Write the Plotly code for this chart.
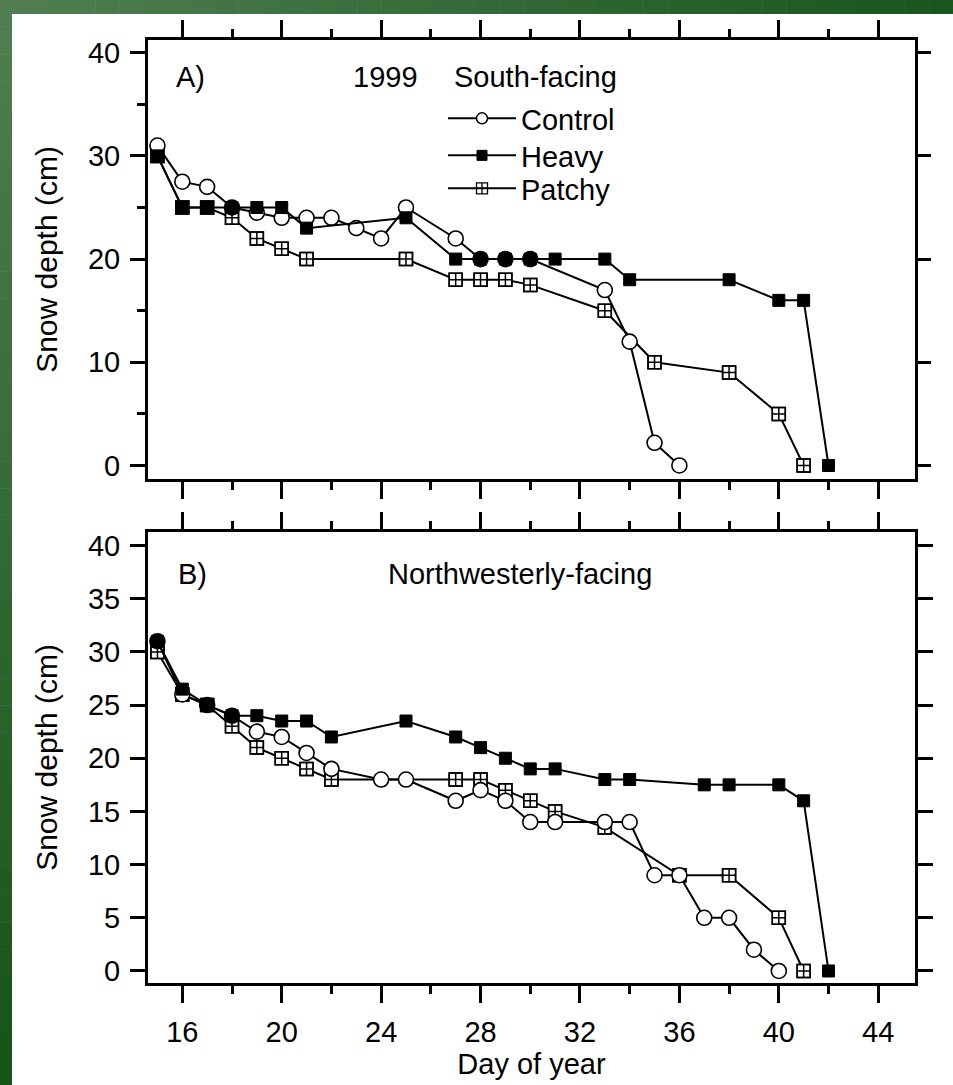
import plotly.graph_objects as go

# ---------------- data ----------------
# Panel A (1999, south-facing)
a_control_days = [15, 16, 17, 18, 19, 20, 21, 22, 23, 24, 25, 27, 28, 29, 30, 33, 34, 35, 36]
a_control_depth = [31, 27.5, 27, 25, 24.5, 24, 24, 24, 23, 22, 25, 22, 20, 20, 20, 17, 12, 2.2, 0]

a_heavy_days = [15, 16, 17, 18, 19, 20, 21, 25, 27, 28, 29, 30, 31, 33, 34, 38, 40, 41, 42]
a_heavy_depth = [30, 25, 25, 25, 25, 25, 23, 24, 20, 20, 20, 20, 20, 20, 18, 18, 16, 16, 0]

a_patchy_days = [15, 16, 17, 18, 19, 20, 21, 25, 27, 28, 29, 30, 33, 35, 38, 40, 41]
a_patchy_depth = [30, 25, 25, 24, 22, 21, 20, 20, 18, 18, 18, 17.5, 15, 10, 9, 5, 0]

# Panel B (northwesterly-facing)
b_control_days = [15, 16, 17, 18, 19, 20, 21, 22, 24, 25, 27, 28, 29, 30, 31, 33, 34, 35, 36, 37, 38, 39, 40]
b_control_depth = [31, 26, 25, 24, 22.5, 22, 20.5, 19, 18, 18, 16, 17, 16, 14, 14, 14, 14, 9, 9, 5, 5, 2, 0]

b_heavy_days = [15, 16, 17, 18, 19, 20, 21, 22, 25, 27, 28, 29, 30, 31, 33, 34, 37, 38, 40, 41, 42]
b_heavy_depth = [31, 26.5, 25, 24, 24, 23.5, 23.5, 22, 23.5, 22, 21, 20, 19, 19, 18, 18, 17.5, 17.5, 17.5, 16, 0]

b_patchy_days = [15, 16, 17, 18, 19, 20, 21, 22, 27, 28, 29, 30, 31, 33, 36, 38, 40, 41]
b_patchy_depth = [30, 26, 25, 23, 21, 20, 19, 18, 18, 18, 17, 16, 15, 13.5, 9, 9, 5, 0]

series_names = ["Control", "Heavy", "Patchy"]
x_tick_values = [16, 20, 24, 28, 32, 36, 40, 44]
a_y_ticks = [0, 10, 20, 30, 40]
b_y_ticks = [0, 5, 10, 15, 20, 25, 30, 35, 40]

x_title = "Day of year"
y_title = "Snow depth (cm)"
panel_a_labels = ["A)", "1999", "South-facing"]
panel_b_labels = ["B)", "Northwesterly-facing"]

# ---------------- layout geometry ----------------
W, H = 953, 1085
ML, MR, MT, MB = 148, 38, 40, 102
PW, PH = W - ML - MR, H - MT - MB

def px_x(p):
    return (p - ML) / PW

def px_y(p):
    return 1 - (p - MT) / PH

FONT = "Liberation Sans, Arial, Helvetica, sans-serif"
FS = 29
BLACK = "black"

fig = go.Figure()

def fill_for(ctrl_days, ctrl_vals, heavy_days, heavy_vals):
    hv = dict(zip(heavy_days, heavy_vals))
    return [BLACK if hv.get(d) == v else "white" for d, v in zip(ctrl_days, ctrl_vals)]

def add_panel(xa, ya, c_d, c_v, h_d, h_v, p_d, p_v):
    # Patchy: white square base + crossed open square on top
    fig.add_trace(go.Scatter(x=p_d, y=p_v, xaxis=xa, yaxis=ya, mode="lines+markers",
                             line=dict(color=BLACK, width=2),
                             marker=dict(symbol="square", size=13, color="white",
                                         line=dict(color=BLACK, width=1.5)),
                             showlegend=False, hoverinfo="skip"))
    fig.add_trace(go.Scatter(x=p_d, y=p_v, xaxis=xa, yaxis=ya, mode="markers",
                             marker=dict(symbol="square-cross-open", size=13, color=BLACK,
                                         line=dict(width=1.5)),
                             showlegend=False, hoverinfo="skip"))
    # Control: open circles (appear filled where they coincide with Heavy)
    fig.add_trace(go.Scatter(x=c_d, y=c_v, xaxis=xa, yaxis=ya, mode="lines+markers",
                             line=dict(color=BLACK, width=2),
                             marker=dict(symbol="circle", size=15,
                                         color=fill_for(c_d, c_v, h_d, h_v),
                                         line=dict(color=BLACK, width=1.6)),
                             showlegend=False, hoverinfo="skip"))
    # Heavy: filled squares
    fig.add_trace(go.Scatter(x=h_d, y=h_v, xaxis=xa, yaxis=ya, mode="lines+markers",
                             line=dict(color=BLACK, width=2),
                             marker=dict(symbol="square", size=12, color=BLACK,
                                         line=dict(color=BLACK, width=1)),
                             showlegend=False, hoverinfo="skip"))

add_panel("x", "y", a_control_days, a_control_depth, a_heavy_days, a_heavy_depth,
          a_patchy_days, a_patchy_depth)
add_panel("x2", "y2", b_control_days, b_control_depth, b_heavy_days, b_heavy_depth,
          b_patchy_days, b_patchy_depth)

# legend-only entries, one legend box per entry for exact row spacing
legend_styles = [
    dict(symbol="circle", size=11, color="white", line=dict(color=BLACK, width=1.5)),
    dict(symbol="square", size=10, color=BLACK, line=dict(color=BLACK, width=1)),
    dict(symbol="square-cross-open", size=11, color=BLACK, line=dict(width=1.3)),
]
legend_ids = ["legend", "legend2", "legend3"]
for name, mk, lid in zip(series_names, legend_styles, legend_ids):
    fig.add_trace(go.Scatter(x=[None], y=[None], xaxis="x", yaxis="y", mode="lines+markers",
                             name=name, line=dict(color=BLACK, width=2), marker=mk,
                             legend=lid, showlegend=True))

xrange_ = [14.62, 45.48]
a_range = [-1.31, 41.23]
b_range = [-1.13, 41.27]
a_dom = [px_y(479), 1]
b_dom = [0, px_y(532)]

common_x = dict(range=xrange_, tickmode="array", tickvals=x_tick_values,
                ticks="outside", ticklen=17, tickwidth=3, tickcolor=BLACK,
                minor=dict(dtick=2, tick0=16, ticks="outside", ticklen=8, tickwidth=3,
                           tickcolor=BLACK, showgrid=False),
                showline=True, linewidth=3, linecolor=BLACK, mirror="ticks",
                showgrid=False, zeroline=False,
                tickfont=dict(family=FONT, size=FS, color=BLACK))

legend_rows_top = [93, 130, 163]
legend_common = dict(xanchor="left", yanchor="top", bgcolor="rgba(0,0,0,0)", borderwidth=0,
                     itemwidth=68, font=dict(family=FONT, size=FS, color=BLACK))

fig.update_layout(
    width=W, height=H,
    margin=dict(l=ML, r=MR, t=MT, b=MB),
    paper_bgcolor="white", plot_bgcolor="white",
    font=dict(family=FONT, size=FS, color=BLACK),
    xaxis=dict(common_x, anchor="y", domain=[0, 1], showticklabels=False),
    xaxis2=dict(common_x, anchor="y2", domain=[0, 1], showticklabels=True,
                ticklabelstandoff=4,
                title=dict(text=x_title, font=dict(family=FONT, size=FS), standoff=6)),
    yaxis=dict(domain=a_dom, anchor="x", range=a_range, tickmode="array", tickvals=a_y_ticks,
               ticks="outside", ticklen=15, tickwidth=3, tickcolor=BLACK,
               minor=dict(tickvals=[5, 15, 25, 35], ticks="outside", ticklen=8, tickwidth=3,
                          tickcolor=BLACK, showgrid=False),
               showline=True, linewidth=3, linecolor=BLACK, mirror=True,
               showgrid=False, zeroline=False, ticklabelstandoff=4,
               tickfont=dict(family=FONT, size=FS, color=BLACK),
               title=dict(text=y_title, font=dict(family=FONT, size=30), standoff=22)),
    yaxis3=dict(overlaying="y", side="right", anchor="x", range=a_range, tickmode="array",
                tickvals=a_y_ticks, ticks="outside", ticklen=15, tickwidth=3, tickcolor=BLACK,
                showticklabels=False, showline=False, showgrid=False, zeroline=False),
    yaxis2=dict(domain=b_dom, anchor="x2", range=b_range, tickmode="array", tickvals=b_y_ticks,
                ticks="outside", ticklen=15, tickwidth=3, tickcolor=BLACK,
                showline=True, linewidth=3, linecolor=BLACK, mirror="ticks",
                showgrid=False, zeroline=False, ticklabelstandoff=4,
                tickfont=dict(family=FONT, size=FS, color=BLACK),
                title=dict(text=y_title, font=dict(family=FONT, size=30), standoff=22)),
    legend=dict(legend_common, x=px_x(443), y=px_y(legend_rows_top[0])),
    legend2=dict(legend_common, x=px_x(443), y=px_y(legend_rows_top[1])),
    legend3=dict(legend_common, x=px_x(443), y=px_y(legend_rows_top[2])),
    showlegend=True,
)

# invisible trace to activate yaxis3
fig.add_trace(go.Scatter(x=[None], y=[None], xaxis="x", yaxis="y3", showlegend=False,
                         hoverinfo="skip"))

ann = []
for text, cx in zip(panel_a_labels, [190, 385, 535]):
    ann.append(dict(text=text, x=px_x(cx), y=px_y(77), xref="paper", yref="paper",
                    xanchor="center", yanchor="middle", showarrow=False,
                    font=dict(family=FONT, size=FS, color=BLACK)))
for text, cx in zip(panel_b_labels, [192, 520]):
    ann.append(dict(text=text, x=px_x(cx), y=px_y(574), xref="paper", yref="paper",
                    xanchor="center", yanchor="middle", showarrow=False,
                    font=dict(family=FONT, size=FS, color=BLACK)))
fig.update_layout(annotations=ann)

# green gradient border (top band and left band)
def lerp(c1, c2, t):
    return "rgb(%d,%d,%d)" % tuple(round(a + (b - a) * t) for a, b in zip(c1, c2))

shapes = []
c_tl, c_tr, c_bl = (80, 126, 80), (24, 86, 30), (22, 84, 24)
n = 40
for i in range(n):
    x0 = W * i / n
    x1 = W * (i + 1) / n + 0.5
    shapes.append(dict(type="rect", xref="paper", yref="paper", layer="below",
                       x0=px_x(x0), x1=px_x(x1), y0=px_y(14), y1=px_y(0),
                       fillcolor=lerp(c_tl, c_tr, i / (n - 1)), line=dict(width=0)))
for i in range(n):
    y0 = H * i / n
    y1 = H * (i + 1) / n + 0.5
    shapes.append(dict(type="rect", xref="paper", yref="paper", layer="below",
                       x0=px_x(0), x1=px_x(12), y0=px_y(y1), y1=px_y(y0),
                       fillcolor=lerp(c_tl, c_bl, i / (n - 1)), line=dict(width=0)))
fig.update_layout(shapes=shapes)

fig.write_html("out.html", config={"displayModeBar": False},
               post_script="document.body.style.margin='0';")
